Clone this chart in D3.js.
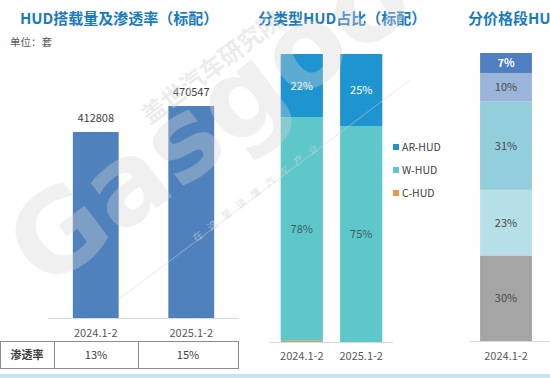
<!DOCTYPE html>
<html>
<head>
<meta charset="utf-8">
<script src="https://d3js.org/d3.v7.min.js"></script>
<style>
  body { margin: 0; background: #fff; }
  svg { display: block; font-family: "Noto Sans CJK SC", "Noto Sans", sans-serif; }
  .title { fill: #1a7bc0; font-size: 15px; font-weight: bold; }
  .lbl { font-size: 11px; fill: #404040; }
  .tick { font-size: 11px; fill: #595959; }
</style>
</head>
<body>
<div id="chart"></div>
<script>
// volume panel
const periods = ["2024.1-2", "2025.1-2"];
const volume = [412808, 470547];
const penetration = ["13%", "15%"];

// type share panel
const hudTypes = ["AR-HUD", "W-HUD", "C-HUD"];
const arShare = [22, 25];
const wShare = [78, 75];
const cShare = [0.4, 0];
const typeLabels = { "AR-HUD": ["22%", "25%"], "W-HUD": ["78%", "75%"] };

// price segment panel (only first bar visible)
const priceSegments = ["s1", "s2", "s3", "s4", "s5"];
const priceShare = [7, 10, 31, 23, 30];
const pricePeriods = ["2024.1-2"];

const W = 550, H = 378;
const svg = d3.select("#chart").append("svg").attr("width", W).attr("height", H);

// ---------- left panel ----------
svg.append("text").attr("class", "title").attr("x", 20).attr("y", 24).text("HUD搭载量及渗透率（标配）");
svg.append("text").attr("x", 10).attr("y", 46).attr("font-size", 10.5).attr("fill", "#595959").text("单位：套");

const x1 = d3.scaleBand().domain(periods).range([48, 239]).paddingInner(0.52).paddingOuter(0.26);
const y1 = d3.scaleLinear().domain([0, 500000]).range([318, 318 - 225.3]);

svg.selectAll(".vbar").data(volume).join("rect")
  .attr("x", (d, i) => x1(periods[i]))
  .attr("width", x1.bandwidth())
  .attr("y", d => y1(d))
  .attr("height", d => y1(0) - y1(d))
  .attr("fill", "#4f81bd");
svg.selectAll(".vlbl").data(volume).join("text")
  .attr("class", "lbl").attr("text-anchor", "middle")
  .attr("x", (d, i) => x1(periods[i]) + x1.bandwidth() / 2)
  .attr("y", d => y1(d) - 10)
  .text(d => d);
svg.append("line").attr("x1", 48).attr("x2", 239).attr("y1", 318.5).attr("y2", 318.5).attr("stroke", "#d9d9d9");
svg.selectAll(".vtick").data(periods).join("text")
  .attr("class", "tick").attr("text-anchor", "middle")
  .attr("x", d => x1(d) + x1.bandwidth() / 2).attr("y", 337).text(d => d);

// penetration table
const tbl = svg.append("g").attr("stroke", "#8c8c8c").attr("fill", "none");
tbl.append("rect").attr("x", 0.5).attr("y", 341.5).attr("width", 238).attr("height", 27);
[54.5, 138.5].forEach(x => tbl.append("line").attr("x1", x).attr("x2", x).attr("y1", 341.5).attr("y2", 368.5));
svg.append("text").attr("x", 27).attr("y", 359).attr("text-anchor", "middle")
  .attr("font-size", 11).attr("font-weight", "bold").attr("fill", "#404040").text("渗透率");
svg.selectAll(".pen").data(penetration).join("text")
  .attr("class", "lbl").attr("text-anchor", "middle")
  .attr("x", (d, i) => [96, 188][i]).attr("y", 359).text(d => d);

// ---------- middle panel ----------
svg.append("text").attr("class", "title").attr("x", 258).attr("y", 24).text("分类型HUD占比（标配）");

const x2 = d3.scaleBand().domain(periods).range([270, 393]).paddingInner(0.29).paddingOuter(0.18);
const y2 = d3.scaleLinear().domain([0, 100]).range([342, 54]);
const color2 = d3.scaleOrdinal().domain(hudTypes).range(["#1e95d0", "#5ec7ca", "#f0954f"]);

const typeRows = periods.map((p, i) => ({ period: p, "AR-HUD": arShare[i], "W-HUD": wShare[i], "C-HUD": cShare[i] }));
const stack2 = d3.stack().keys(["C-HUD", "W-HUD", "AR-HUD"])
  .offset(d3.stackOffsetExpand)(typeRows);

stack2.forEach(layer => {
  svg.selectAll(".s2-" + layer.key).data(layer).join("rect")
    .attr("x", d => x2(d.data.period))
    .attr("width", x2.bandwidth())
    .attr("y", d => y2(d[1] * 100))
    .attr("height", d => y2(d[0] * 100) - y2(d[1] * 100))
    .attr("fill", color2(layer.key));
  if (typeLabels[layer.key]) {
    svg.selectAll(".t2-" + layer.key).data(layer).join("text")
      .attr("text-anchor", "middle").attr("font-size", 11)
      .attr("fill", layer.key === "AR-HUD" ? "#ffffff" : "#3f5f63")
      .attr("x", d => x2(d.data.period) + x2.bandwidth() / 2)
      .attr("y", (d, i) => layer.key === "W-HUD" ? 233 + i * 5 : (y2(d[0] * 100) + y2(d[1] * 100)) / 2 + 4)
      .text((d, i) => typeLabels[layer.key][i]);
  }
});
svg.append("line").attr("x1", 270).attr("x2", 393).attr("y1", 342.5).attr("y2", 342.5).attr("stroke", "#d9d9d9");
svg.selectAll(".ttick").data(periods).join("text")
  .attr("class", "tick").attr("text-anchor", "middle")
  .attr("x", d => x2(d) + x2.bandwidth() / 2).attr("y", 360).text(d => d);

const leg = svg.selectAll(".leg").data(hudTypes).join("g")
  .attr("transform", (d, i) => `translate(393,${148 + i * 23})`);
leg.append("rect").attr("y", -4).attr("width", 6).attr("height", 6).attr("fill", d => color2(d));
leg.append("text").attr("x", 9).attr("y", 2.5).attr("font-size", 10.5).attr("fill", "#404040").text(d => d);

// ---------- right panel ----------
svg.append("text").attr("class", "title").attr("x", 468).attr("y", 24).text("分价格段HUD占比（标配）");

const x3 = d3.scaleBand().domain(pricePeriods).range([470, 542]).paddingInner(0.28).paddingOuter(0.14);
const y3 = d3.scaleLinear().domain([0, d3.sum(priceShare)]).range([341, 53]);
const color3 = d3.scaleOrdinal().domain(priceSegments)
  .range(["#4f7fc0", "#9bb4d9", "#93cedd", "#b7dfe8", "#a5a5a5"]);
const textCol3 = ["#ffffff", "#4a4a4a", "#4a4a4a", "#4a4a4a", "#4a4a4a"];

let acc = 0;
const segs = priceShare.slice().reverse().map((v, j) => {
  const i = priceShare.length - 1 - j;
  const s = { key: priceSegments[i], v, i, y0: acc, y1: acc + v };
  acc += v;
  return s;
});
const bx = x3(pricePeriods[0]);
svg.selectAll(".pseg").data(segs).join("rect")
  .attr("x", bx).attr("width", x3.bandwidth())
  .attr("y", d => y3(d.y1)).attr("height", d => y3(d.y0) - y3(d.y1))
  .attr("fill", d => color3(d.key));
svg.selectAll(".plbl").data(segs).join("text")
  .attr("text-anchor", "middle").attr("font-size", 11)
  .attr("font-weight", d => d.i === 0 ? "bold" : "normal")
  .attr("fill", d => textCol3[d.i])
  .attr("x", bx + x3.bandwidth() / 2)
  .attr("y", d => (y3(d.y0) + y3(d.y1)) / 2 + 4)
  .text(d => d.v + "%");
svg.append("line").attr("x1", 470).attr("x2", 550).attr("y1", 341.5).attr("y2", 341.5).attr("stroke", "#d9d9d9");
svg.append("text").attr("class", "tick").attr("text-anchor", "middle")
  .attr("x", bx + x3.bandwidth() / 2).attr("y", 360).text(pricePeriods[0]);

// bottom strip
svg.append("rect").attr("x", 0).attr("y", 374).attr("width", W).attr("height", 4).attr("fill", "#c6e4ee");

// watermark
const wm = svg.append("g").attr("pointer-events", "none");
wm.append("text").attr("transform", "translate(45,292) rotate(-37)")
  .attr("font-size", 112).attr("font-family", "DejaVu Sans").attr("font-weight", "bold")
  .attr("fill", "#d4d4d4").attr("fill-opacity", 0.35).text("Gasgoo");
wm.append("text").attr("transform", "translate(150,125) rotate(-37)")
  .attr("font-size", 24).attr("font-weight", "bold")
  .attr("fill", "#d4d4d4").attr("fill-opacity", 0.45).text("盖世汽车研究院");
wm.append("text").attr("transform", "translate(196,242) rotate(-37)")
  .attr("font-size", 10).attr("letter-spacing", 8)
  .attr("fill", "#d4d4d4").attr("fill-opacity", 0.6).text("在这里读懂汽车产业");
wm.append("line").attr("x1", 118).attr("y1", 300).attr("x2", 410).attr("y2", 80)
  .attr("stroke", "#d4d4d4").attr("stroke-opacity", 0.5);
</script>
</body>
</html>
